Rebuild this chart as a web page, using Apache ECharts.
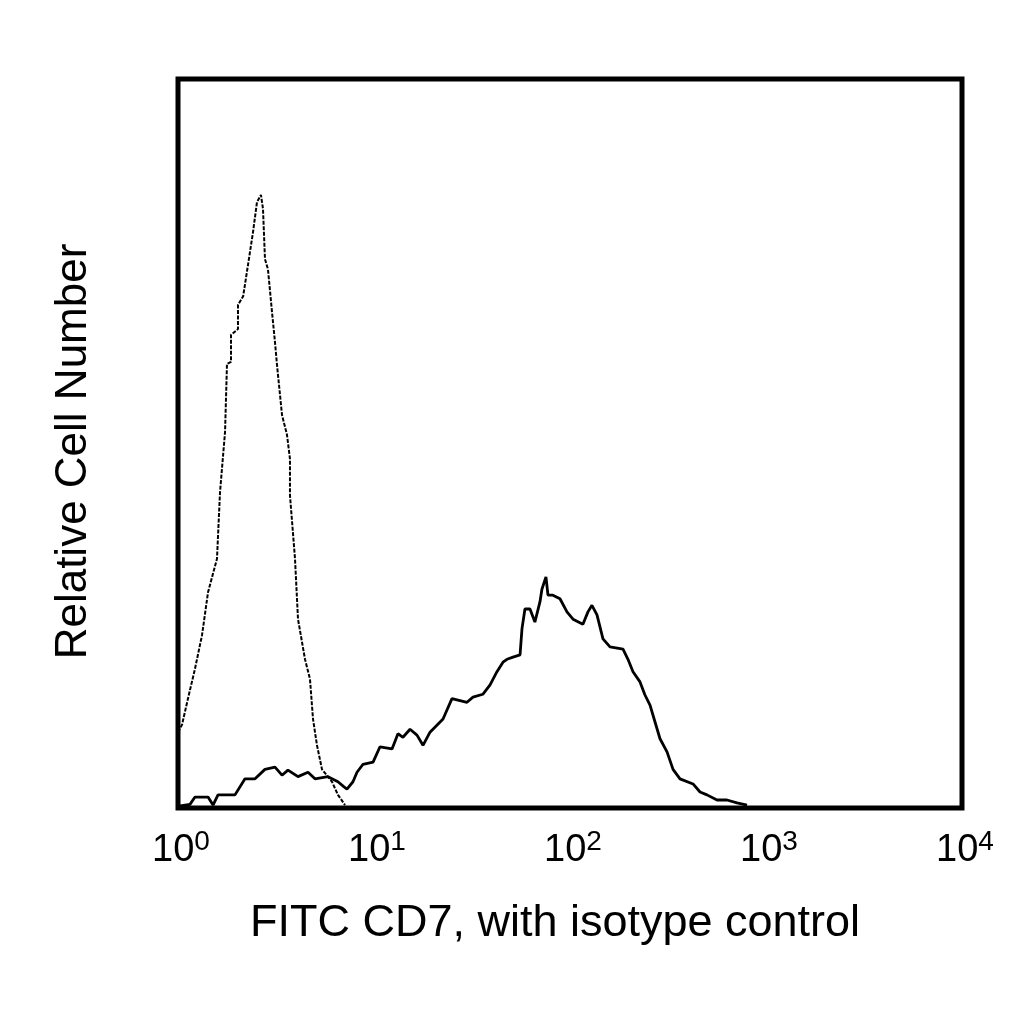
<!DOCTYPE html>
<html>
<head>
<meta charset="utf-8">
<script src="https://cdn.jsdelivr.net/npm/echarts@6/dist/echarts.min.js"></script>
<style>
  html, body { margin: 0; padding: 0; background: #fff; }
  #chart { width: 1024px; height: 1024px; }
</style>
</head>
<body>
<div id="chart"></div>
<script>
// Isotype control histogram (dotted) : [fluorescence, relative count]
const isotypeX = [1.00, 1.048, 1.124, 1.221, 1.326, 1.423, 1.581, 1.638, 1.738, 1.778, 1.864, 1.864, 2.023, 2.023, 2.15, 2.276,
    2.414, 2.529, 2.650, 2.714, 2.778, 2.877, 3.018, 3.125, 3.199, 3.394, 3.597, 3.726, 3.726, 3.953, 4.095, 4.446,
    4.713, 4.885, 5.118, 5.429, 6.107, 6.548, 7.113];
const isotypeY = [10.4, 11.4, 15.0, 19.1, 23.7, 29.6, 34.2, 43.3, 51.6, 60.9, 61.2, 64.9, 65.7, 69.0, 70.2, 74.5,
    79.0, 83.1, 84.1, 82.2, 75.3, 73.9, 68.0, 63.9, 60.8, 53.9, 51.2, 47.9, 42.9, 34.2, 25.9, 20.4,
    17.7, 12.2, 8.6, 5.3, 3.6, 1.8, 0.4];

// FITC CD7 histogram (solid)
const cd7X = [1.024, 1.151, 1.221, 1.423, 1.509, 1.600, 1.953, 2.197, 2.471, 2.778, 3.125, 3.394, 3.640, 4.095, 4.605,
    5.000, 5.825, 6.548, 7.031, 7.28, 7.81, 8.19, 8.79, 9.89, 10.73, 12.36, 13.25, 14.05, 15.27, 16.57, 17.78,
    19.31, 22.50, 24.99, 29.81, 32.0, 35.9, 39.1, 42.4, 45.5, 47.7, 51.2, 55.6, 56.9, 58.9, 62.5, 66.2, 70.3,
    71.9, 75.4, 77.2, 81.8, 88.9, 96.5, 103.6, 116.4, 123.5, 129.4, 137.3, 147.3, 160.0, 186.4, 197.6, 209.6,
    227.6, 241.3, 256.0, 271.5, 287.9, 312.6, 335.5, 364.1, 424.4, 460.6, 500.0, 562.3, 632.1, 711.4, 800.0];
const cd7Y = [0.3, 0.5, 1.5, 1.5, 0.4, 1.8, 1.8, 4.0, 4.0, 5.3, 5.6, 4.5, 5.2, 4.3, 4.9,
    4.0, 4.3, 3.6, 2.9, 2.6, 3.6, 4.9, 6.0, 6.3, 8.4, 8.1, 10.2, 9.7, 10.8, 10.0, 8.6,
    10.4, 12.2, 15.0, 14.5, 15.2, 15.6, 16.9, 18.7, 20.0, 20.4, 20.7, 21.0, 24.6, 27.3, 27.3, 25.5, 28.3,
    30.0, 31.7, 29.2, 29.2, 28.7, 26.9, 25.9, 25.2, 26.9, 27.8, 26.5, 23.2, 22.1, 21.8, 20.4, 18.7,
    17.3, 15.5, 14.1, 11.8, 9.5, 7.7, 5.3, 4.0, 3.3, 2.2, 1.8, 1.1, 1.1, 0.7, 0.4];

const tickValues = [1, 10, 100, 1000, 10000];
const tickExponents = ['0', '1', '2', '3', '4'];

const FONT = 'Liberation Sans, Arial, sans-serif';
const pair = (xs, ys) => xs.map((x, i) => [x, ys[i]]);

const chart = echarts.init(document.getElementById('chart'));

chart.setOption({
    backgroundColor: '#fff',
    animation: false,
    textStyle: { fontFamily: FONT },
    grid: {
        left: 178, right: 62, top: 79, bottom: 216,
        show: true, borderColor: '#000', borderWidth: 5, backgroundColor: 'transparent',
    },
    xAxis: {
        type: 'log',
        logBase: 10,
        min: 1,
        max: 10000,
        name: 'FITC CD7, with isotype control',
        nameLocation: 'middle',
        nameGap: 93,
        nameTextStyle: { fontSize: 45, color: '#000', fontFamily: FONT, padding: [0, 30, 0, 0] },
        axisLine: { show: false },
        axisTick: { show: false },
        splitLine: { show: false },
        minorTick: { show: false },
        axisLabel: {
            margin: 20,
            formatter: (v) => {
                const idx = tickValues.findIndex((t) => Math.abs(t - v) / t < 1e-6);
                return idx < 0 ? '' : '{b|10}{s|' + tickExponents[idx] + '}';
            },
            rich: {
                b: { fontSize: 38, color: '#000', lineHeight: 42, verticalAlign: 'bottom', fontFamily: FONT, padding: [0, 0, 0, 6] },
                s: { fontSize: 28, color: '#000', lineHeight: 42, verticalAlign: 'top', padding: [0, 0, 16, 0], fontFamily: FONT },
            },
        },
    },
    yAxis: {
        type: 'value',
        min: 0,
        max: 100,
        name: 'Relative Cell Number',
        nameLocation: 'middle',
        nameGap: 82,
        nameTextStyle: { fontSize: 44, color: '#000', fontFamily: FONT, padding: [0, 16, 0, 0] },
        axisLine: { show: false },
        axisTick: { show: false },
        axisLabel: { show: false },
        splitLine: { show: false },
    },
    series: [
        {
            name: 'Isotype control',
            type: 'line',
            data: pair(isotypeX, isotypeY),
            showSymbol: false,
            lineStyle: { color: '#000', width: 2, type: [4, 1.5] },
            z: 2,
        },
        {
            name: 'FITC CD7',
            type: 'line',
            data: pair(cd7X, cd7Y),
            showSymbol: false,
            lineStyle: { color: '#000', width: 2.8 },
            z: 3,
        },
    ],
});
</script>
</body>
</html>
